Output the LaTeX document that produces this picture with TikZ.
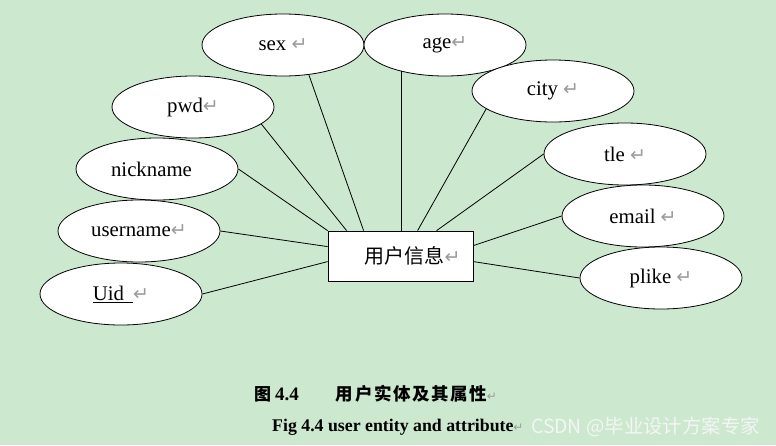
\documentclass[tikz,border=0pt]{standalone}
\usepackage{fontspec}
\setmainfont{Liberation Serif}
\newfontfamily\cjk{Noto Sans CJK SC}
\newfontfamily\capcjk[LetterSpace=9]{Noto Sans CJK SC}
\newfontfamily\symf{DejaVu Sans}
\usetikzlibrary{shapes.geometric,calc}
\definecolor{bg}{RGB}{204,232,207}
\definecolor{retgray}{RGB}{155,155,155}
\definecolor{wm}{RGB}{244,245,244}
\newcommand\ret[1][19]{{\symf\fontsize{#1}{#1}\selectfont\color{retgray}↵}}
\begin{document}
\begin{tikzpicture}[x=1pt,y=-1pt,
  attr/.style={ellipse,draw,fill=white,line width=0.8pt,minimum width=162pt,minimum height=62pt,inner sep=0pt,font=\fontsize{20.8}{24}\selectfont},
  entity/.style={draw,fill=white,line width=0.8pt,minimum width=145pt,minimum height=50pt,inner sep=0pt,font=\cjk\fontsize{20}{24}\selectfont},
  conn/.style={line width=0.8pt},
  caption/.style={inner sep=0pt,anchor=west}]
\fill[bg] (0,0) rectangle (776,445);
\useasboundingbox (0,0) rectangle (776,445);

\node[attr] (sex) at (283,45) {sex \ret};
\node[attr] (age) at (445,45) {age\ret};
\node[attr] (pwd) at (193,107) {pwd\ret};
\node[attr] (city) at (553,91) {city \ret};
\node[attr] (nick) at (157,169) {nickname\hspace*{11pt}};
\node[attr] (tle) at (625,154) {tle \ret};
\node[attr] (user) at (139,231) {username\ret};
\node[attr] (email) at (643,216) {email \ret};
\node[attr] (uid) at (121,294) {\underline{Uid\hspace{9pt}}\ret};
\node[attr] (plike) at (661,278) {plike \ret};

\node[entity] (ent) at (400.5,256) {\hspace*{24pt}用户信息\ret};

\draw[conn] (ent.north west) -- (nick.east);
\draw[conn] ($(ent.north west)+(19,0)$) -- (pwd.-14);
\draw[conn] ($(ent.north west)+(36,0)$) -- (sex.-49);
\draw[conn] (age.-149) -- (age.-149 |- ent.north);
\draw[conn] ($(ent.north west)+(90,0)$) -- (city.-165);
\draw[conn] ($(ent.north west)+(109,0)$) -- (tle.west);
\draw[conn] ($(ent.north east)+(0,15)$) -- (email.west);
\draw[conn] ($(ent.north east)+(0,31)$) -- (plike.west);
\draw[conn] ($(ent.north west)+(0,16)$) -- (user.east);
\draw[conn] ($(ent.north west)+(0,31)$) -- (uid.east);

\node[caption] (cap1) at (254,394) {{\cjk\bfseries\fontsize{17}{20}\selectfont 图}\hspace{4pt}{\bfseries\fontsize{19}{20}\selectfont 4.4}\hspace{37pt}{\capcjk\bfseries\fontsize{17.5}{20}\selectfont 用户实体及其属性}\ret[12]};
\node[caption] (cap2) at (272,427) {{\bfseries\fontsize{17.8}{20}\selectfont Fig 4.4 user entity and attribute}\ret[12]};
\node[caption] (wmark) at (531,427) {\cjk\fontsize{19.4}{20}\selectfont\color{wm}CSDN @毕业设计方案专家};
\end{tikzpicture}
\end{document}
